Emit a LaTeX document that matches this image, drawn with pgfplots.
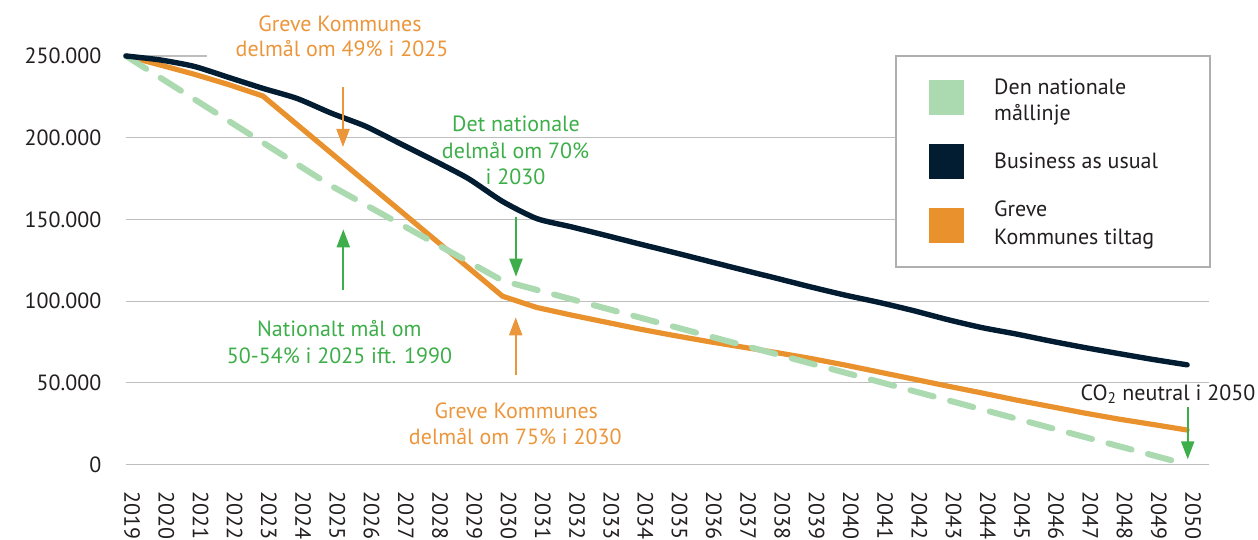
\documentclass[border=0pt]{standalone}
\usepackage{pgfplots}
\pgfplotsset{compat=1.18}
\usetikzlibrary{arrows.meta}
\usepackage{fontspec}
\setmainfont{PT Sans}
\definecolor{navy}{RGB}{2,28,50}
\definecolor{orng}{RGB}{232,145,45}
\definecolor{lgreen}{RGB}{171,217,176}
\definecolor{agreen}{RGB}{61,174,73}
\definecolor{aorange}{RGB}{236,150,60}
\definecolor{txt}{RGB}{35,31,32}
\definecolor{gridc}{RGB}{190,190,190}
\definecolor{legc}{RGB}{175,175,175}
\newcommand\ft{\fontsize{22}{26}\selectfont}
\begin{document}
\begin{tikzpicture}
\path[use as bounding box] (0pt,0pt) rectangle (1258pt,-540pt);
\begin{axis}[
  at={(126pt,-464.5pt)}, anchor=south west,
  scale only axis, width=1083pt, height=408.5pt,
  xmin=2019, xmax=2050.64, ymin=0, ymax=250000,
  clip=false,
  axis line style={draw=none},
  major tick length=0pt,
  tick style={draw=none},
  scaled y ticks=false,
  ymajorgrids=true, xmajorgrids=false,
  grid style={gridc, line width=1.2pt},
  ytick={0,50000,100000,150000,200000},
  yticklabels={0,50.000,100.000,150.000,200.000},
  extra y ticks={250000},
  extra y tick labels={250.000},
  extra y tick style={grid=none},
  yticklabel style={font=\ft, text=txt, anchor=east, inner sep=0pt, xshift=-24.5pt},
  xtick={2019,2020,...,2050},
  xticklabels={2019,2020,2021,2022,2023,2024,2025,2026,2027,2028,2029,2030,2031,2032,2033,2034,2035,2036,2037,2038,2039,2040,2041,2042,2043,2044,2045,2046,2047,2048,2049,2050},
  xticklabel style={font=\ft, text=txt, inner sep=0pt, xshift=6pt, yshift=-27pt, rotate=-90, anchor=west},
]
\draw[gridc, line width=1.2pt] (axis cs:2019,250000) -- (axis cs:2021.37,250000);
\addplot[orng, line width=5.2pt, line cap=round, line join=round] coordinates {
(2019,250000) (2020,244500) (2021,238800) (2022,232500) (2023,225500)
(2024,208000) (2025,190500) (2026,173000) (2027,155500) (2028,138000)
(2029,120500) (2030,103000) (2031,96100) (2032,91500) (2033,87200)
(2034,82900) (2035,79000) (2036,75300) (2037,71900) (2038,68500)
(2039,64900) (2040,60900) (2041,56600) (2042,52300) (2043,48000)
(2044,43800) (2045,39500) (2046,35500) (2047,31500) (2048,27800)
(2049,24500) (2050,21100)};
\addplot[lgreen, line width=6pt, line cap=round, dash pattern=on 24pt off 17pt] coordinates {
(2019,250000) (2025,170500) (2030,112500) (2050,0)};
\addplot[navy, line width=5.4pt, line cap=round, line join=round, smooth, tension=0.4] coordinates {
(2019,250000) (2020,247600) (2021,243600) (2022,236900) (2023,230200)
(2024,224000) (2025,215000) (2026,207000) (2027,196500) (2028,186000)
(2029,175000) (2030,161000) (2031,150500) (2032,145500) (2033,140300)
(2034,135000) (2035,129800) (2036,124500) (2037,119200) (2038,114000)
(2039,108700) (2040,103700) (2041,99200) (2042,94200) (2043,88700)
(2044,83800) (2045,79900) (2046,75600) (2047,71600) (2048,67900)
(2049,64300) (2050,61000)};
\end{axis}
\begin{scope}[x=1pt, y=-1pt, every node/.style={font=\ft, inner sep=0pt}]
% annotations
\node[text=aorange, anchor=base] at (340,32) {Greve Kommunes};
\node[text=aorange, anchor=base] at (342,57) {delmål om 49\% i 2025};
\draw[aorange, line width=2pt, -{Triangle[length=18pt,width=13pt]}] (343,87) -- (343,147);
\node[text=agreen, anchor=base] at (516,131.7) {Det nationale};
\node[text=agreen, anchor=base] at (515.5,159) {delmål om 70\%};
\node[text=agreen, anchor=base] at (515.5,185) {i 2030};
\draw[agreen, line width=2pt, -{Triangle[length=18pt,width=13pt]}] (516,216.7) -- (516,276.7);
\draw[agreen, line width=2pt, -{Triangle[length=18pt,width=13pt]}] (343.3,290) -- (343.3,229.3);
\node[text=agreen, anchor=base] at (339.3,336.7) {Nationalt mål om};
\node[text=agreen, anchor=base] at (339.5,363.3) {50-54\% i 2025 ift. 1990};
\draw[aorange, line width=2pt, -{Triangle[length=18pt,width=13pt]}] (515.7,375) -- (515.7,317.3);
\node[text=aorange, anchor=base] at (516.3,418.3) {Greve Kommunes};
\node[text=aorange, anchor=base] at (515.3,444) {delmål om 75\% i 2030};
\node[text=txt, anchor=base] at (1168,400) {CO\textsubscript{2} neutral i 2050};
\draw[agreen, line width=2pt, -{Triangle[length=18pt,width=13pt]}] (1187.7,407) -- (1187.7,459.3);
% legend
\draw[legc, line width=1.5pt, fill=white] (896,56) rectangle (1210,267);
\fill[lgreen] (929,80) rectangle (964,115);
\fill[navy] (929,144) rectangle (964,179);
\fill[orng] (929,208) rectangle (964,243);
\node[text=txt, anchor=base west] at (994,95) {Den nationale};
\node[text=txt, anchor=base west] at (994,121) {mållinje};
\node[text=txt, anchor=base west] at (994,168.3) {Business as usual};
\node[text=txt, anchor=base west] at (994,216.7) {Greve};
\node[text=txt, anchor=base west] at (994,244) {Kommunes tiltag};
\end{scope}
\end{tikzpicture}
\end{document}
